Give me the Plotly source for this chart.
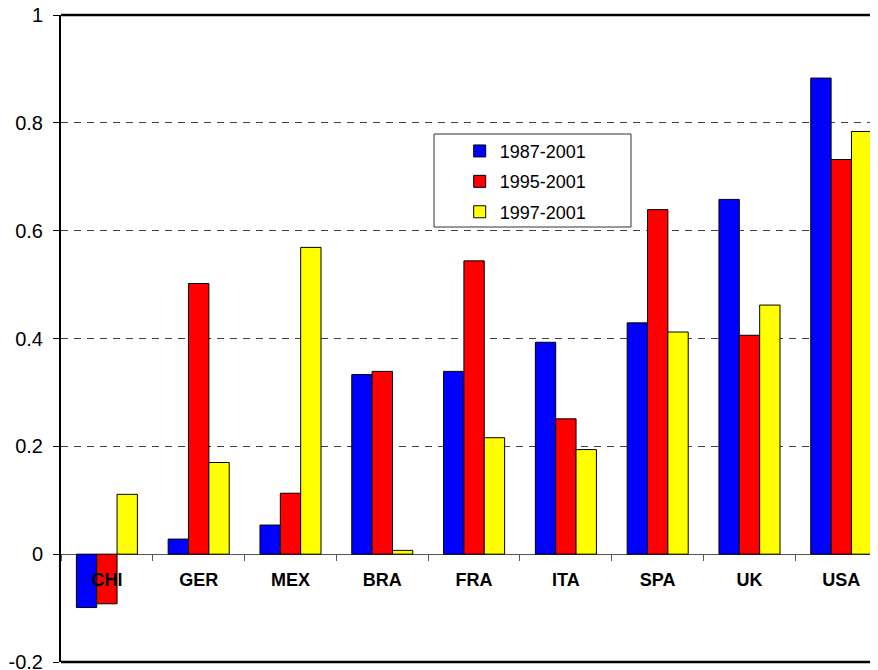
import plotly.graph_objects as go

countries = ["CHI", "GER", "MEX", "BRA", "FRA", "ITA", "SPA", "UK", "USA"]
s_1987 = [-0.099, 0.028, 0.054, 0.333, 0.339, 0.393, 0.429, 0.658, 0.883]
s_1995 = [-0.092, 0.502, 0.113, 0.339, 0.544, 0.251, 0.639, 0.406, 0.732]
s_1997 = [0.111, 0.170, 0.569, 0.007, 0.216, 0.194, 0.412, 0.462, 0.784]
series_names = ["1987-2001", "1995-2001", "1997-2001"]
colors = ["#0000FF", "#FF0000", "#FFFF00"]
y_tickvals = [-0.2, 0, 0.2, 0.4, 0.6, 0.8, 1]
y_ticktext = ["-0.2", "0", "0.2", "0.4", "0.6", "0.8", "1"]

FONT = "Liberation Sans, Arial, sans-serif"

fig = go.Figure()
for i, (name, vals) in enumerate(zip(series_names, [s_1987, s_1995, s_1997])):
    fig.add_trace(go.Bar(
        x=countries, y=vals, name=name, legendgroup=name,
        marker=dict(color=colors[i], line=dict(color="#000000", width=1)),
    ))

# page body has an 8px margin, so the figure is sized to fit the 878x670 window
fig.update_layout(
    width=870, height=662,
    margin=dict(l=53, r=0, t=7, b=8),
    paper_bgcolor="white", plot_bgcolor="white",
    barmode="group", bargap=0.335, bargroupgap=0,
    font=dict(family=FONT, size=18, color="black"),
    showlegend=True,
    legend=dict(x=0.488, y=0.818, xanchor="left", yanchor="top",
                bgcolor="rgba(0,0,0,0)", borderwidth=0,
                tracegroupgap=4, font=dict(size=18, family=FONT)),
    xaxis=dict(type="category", range=[-0.5, 8.40], anchor="free", position=1/6,
               automargin=False,
               showline=False, showgrid=False, ticks="outside", tickson="boundaries",
               ticklen=6, tickwidth=1, tickcolor="#555555",
               ticklabelstandoff=13,
               tickfont=dict(family=FONT, size=18, color="black", weight="bold")),
    yaxis=dict(range=[-0.2, 1], tickvals=y_tickvals, ticktext=y_ticktext,
               automargin=False,
               showline=True, linecolor="black", linewidth=2,
               ticks="outside", ticklen=6, tickwidth=1, tickcolor="black",
               ticklabelstandoff=6, ticklabeloverflow="allow",
               showgrid=True, gridcolor="#404040", gridwidth=1, griddash="7px,6px",
               zeroline=True, zerolinecolor="#555555", zerolinewidth=1,
               tickfont=dict(family=FONT, size=20, color="black")),
    shapes=[
        dict(type="line", xref="paper", yref="paper", x0=0, x1=1, y0=1, y1=1,
             line=dict(color="black", width=2.5)),
        dict(type="line", xref="paper", yref="paper", x0=0, x1=1, y0=0, y1=0,
             line=dict(color="black", width=2.5)),
        dict(type="rect", xref="paper", yref="paper",
             x0=(434 - 61) / 817, x1=(631 - 61) / 817,
             y0=(662 - 227) / 647, y1=(662 - 134) / 647,
             line=dict(color="#333333", width=1), fillcolor="white", layer="above"),
    ],
)

fig.write_html("out.html")
